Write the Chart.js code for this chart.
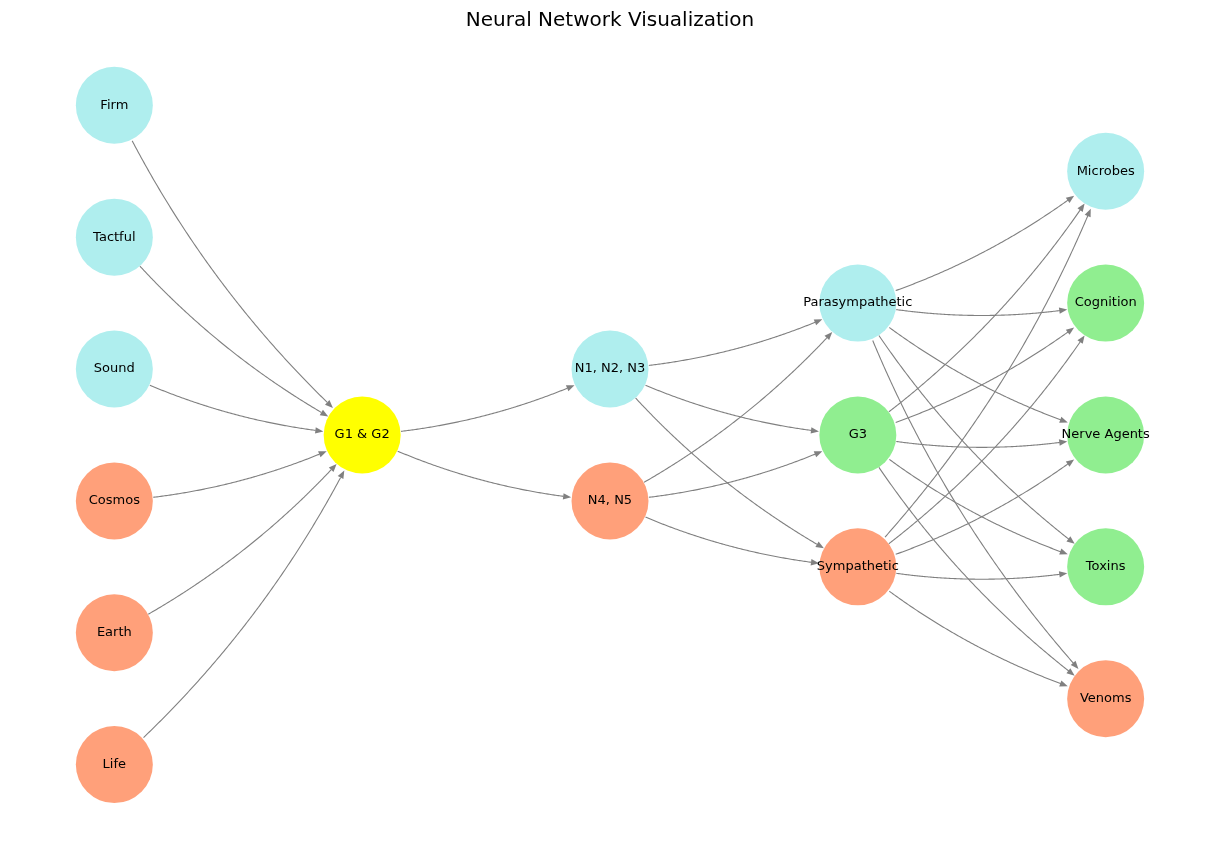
<!doctype html>
<html lang="en">
  <head>
    <meta charset="UTF-8" />
    <title>Neural Network Visualization</title>
    <script src="https://cdn.jsdelivr.net/npm/chart.js"></script>
    <style>
      body { margin: 0; background: #fff; }
      .wrap { width: 1220px; height: 844px; }
    </style>
  </head>
  <body>
    <div class="wrap"><canvas id="net"></canvas></div>
    <script>
      // nodes: name, layer (x), position in layer (y), colour
      const nodeNames = ['Firm', 'Tactful', 'Sound', 'Cosmos', 'Earth', 'Life',
        'G1 & G2', 'N1, N2, N3', 'N4, N5', 'Parasympathetic', 'G3', 'Sympathetic',
        'Microbes', 'Cognition', 'Nerve Agents', 'Toxins', 'Venoms'];
      const nodeX = [0, 0, 0, 0, 0, 0, 1, 2, 2, 3, 3, 3, 4, 4, 4, 4, 4];
      const nodeY = [5, 4, 3, 2, 1, 0, 2.5, 3, 2, 3.5, 2.5, 1.5, 4.5, 3.5, 2.5, 1.5, 0.5];
      const nodeColors = ['#afeeee', '#afeeee', '#afeeee', '#ffa07a', '#ffa07a', '#ffa07a',
        '#ffff00', '#afeeee', '#ffa07a', '#afeeee', '#90ee90', '#ffa07a',
        '#afeeee', '#90ee90', '#90ee90', '#90ee90', '#ffa07a'];
      const edges = [
        [0, 6], [1, 6], [2, 6], [3, 6], [4, 6], [5, 6],
        [6, 7], [6, 8],
        [7, 9], [7, 10], [7, 11], [8, 9], [8, 10], [8, 11],
        [9, 12], [9, 13], [9, 14], [9, 15], [9, 16],
        [10, 12], [10, 13], [10, 14], [10, 15], [10, 16],
        [11, 12], [11, 13], [11, 14], [11, 15], [11, 16]
      ];

      const R = 38.5;

      const edgePlugin = {
        id: 'edges',
        beforeDatasetsDraw(chart) {
          const ctx = chart.ctx, xs = chart.scales.x, ys = chart.scales.y;
          ctx.save();
          ctx.strokeStyle = '#808080';
          ctx.fillStyle = '#808080';
          ctx.lineWidth = 1.1;
          edges.forEach(([a, b]) => {
            const x1 = xs.getPixelForValue(nodeX[a]), y1 = ys.getPixelForValue(nodeY[a]);
            const x2 = xs.getPixelForValue(nodeX[b]), y2 = ys.getPixelForValue(nodeY[b]);
            const dx = x2 - x1, dy = y2 - y1;
            const cx = (x1 + x2) / 2 - 0.1 * dy, cy = (y1 + y2) / 2 + 0.1 * dx;
            const bz = (t) => [
              (1 - t) * (1 - t) * x1 + 2 * t * (1 - t) * cx + t * t * x2,
              (1 - t) * (1 - t) * y1 + 2 * t * (1 - t) * cy + t * t * y2
            ];
            const pts = [];
            for (let i = 0; i <= 200; i++) {
              const p = bz(i / 200);
              if (Math.hypot(p[0] - x1, p[1] - y1) >= R && Math.hypot(p[0] - x2, p[1] - y2) >= R) pts.push(p);
            }
            if (pts.length < 2) return;
            const end = pts[pts.length - 1], prev = pts[pts.length - 4] || pts[0];
            const ang = Math.atan2(end[1] - prev[1], end[0] - prev[0]);
            const hl = 8, hw = 3.2;
            const bx = end[0] - hl * Math.cos(ang), by = end[1] - hl * Math.sin(ang);
            ctx.beginPath();
            ctx.moveTo(pts[0][0], pts[0][1]);
            pts.forEach((p) => {
              if (Math.hypot(p[0] - end[0], p[1] - end[1]) > hl - 1) ctx.lineTo(p[0], p[1]);
            });
            ctx.lineTo(bx, by);
            ctx.stroke();
            ctx.beginPath();
            ctx.moveTo(end[0], end[1]);
            ctx.lineTo(bx - hw * Math.sin(ang), by + hw * Math.cos(ang));
            ctx.lineTo(bx + hw * Math.sin(ang), by - hw * Math.cos(ang));
            ctx.closePath();
            ctx.fill();
          });
          ctx.restore();
        },
        afterDatasetsDraw(chart) {
          const ctx = chart.ctx, xs = chart.scales.x, ys = chart.scales.y;
          ctx.save();
          ctx.fillStyle = '#000';
          ctx.font = '13px "DejaVu Sans", sans-serif';
          ctx.textAlign = 'center';
          ctx.textBaseline = 'middle';
          nodeNames.forEach((n, i) => {
            ctx.fillText(n, xs.getPixelForValue(nodeX[i]), ys.getPixelForValue(nodeY[i]));
          });
          ctx.restore();
        }
      };

      new Chart(document.getElementById('net'), {
        type: 'scatter',
        data: {
          datasets: [{
            data: nodeX.map((x, i) => ({ x, y: nodeY[i] })),
            backgroundColor: nodeColors,
            borderWidth: 0,
            pointRadius: R,
            pointHoverRadius: R
          }]
        },
        options: {
          responsive: true,
          maintainAspectRatio: false,
          animation: false,
          layout: { padding: 0 },
          plugins: {
            legend: { display: false },
            tooltip: { enabled: false },
            title: {
              display: true,
              text: 'Neural Network Visualization',
              color: '#000',
              font: { family: 'DejaVu Sans', size: 20, weight: 'normal' },
              padding: { top: 9, bottom: 9 }
            }
          },
          scales: {
            x: { display: false, min: -0.306, max: 4.306 },
            y: { display: false, min: -0.31, max: 5.48 }
          }
        },
        plugins: [edgePlugin]
      });
    </script>
  </body>
</html>
